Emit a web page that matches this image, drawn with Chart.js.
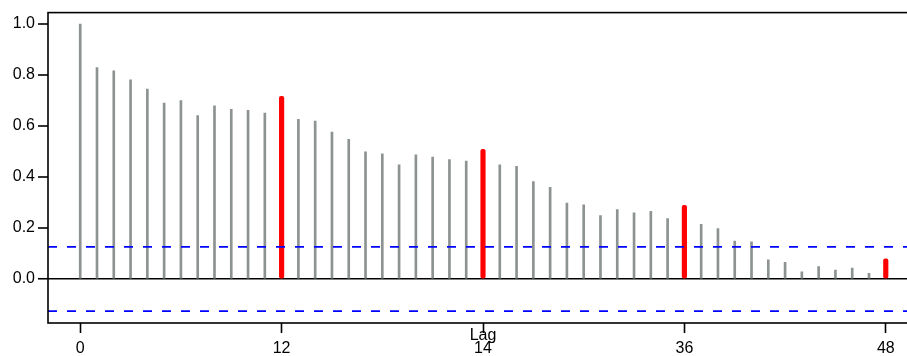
<!DOCTYPE html>
<html>
<head>
<meta charset="utf-8">
<script src="https://cdn.jsdelivr.net/npm/chart.js@4"></script>
<style>
  html, body { margin: 0; padding: 0; background: #fff; overflow: hidden; }
  #wrap { width: 930px; height: 356px; }
</style>
</head>
<body>
<div id="wrap"><canvas id="acf-chart" width="930" height="356"></canvas></div>
<script>
const lags = [];
for (let i = 0; i <= 48; i++) lags.push(i);
const acfValues = [
  1.0, 0.829, 0.816, 0.781, 0.745, 0.69, 0.7, 0.641, 0.679, 0.665, 0.661, 0.651,
  0.716, 0.626, 0.619, 0.576, 0.548, 0.499, 0.491, 0.448, 0.487, 0.478, 0.468, 0.462,
  0.508, 0.448, 0.442, 0.382, 0.359, 0.298, 0.291, 0.249, 0.272, 0.259, 0.265, 0.237,
  0.289, 0.214, 0.198, 0.149, 0.146, 0.075, 0.065, 0.028, 0.049, 0.035, 0.043, 0.022,
  0.079,
];
const seasonalLags = [12, 24, 36, 48];
const confBound = 0.126;
const xTicks = [0, 12, 24, 36, 48];
const xTickLabels = ["0", "12", "14", "36", "48"];
const yTicks = [0, 0.2, 0.4, 0.6, 0.8, 1.0];
const xTitle = "Lag";
const xMin = -1.92, xMax = 49.92;
const yMin = -0.1726, yMax = 1.0447;

const points = lags.map((l, i) => ({ x: l, y: acfValues[i] }));
const grayPoints = points.filter((p) => !seasonalLags.includes(p.x));
const redPoints = points.filter((p) => seasonalLags.includes(p.x));

const framePlugin = {
  id: "frame",
  afterDatasetsDraw(chart) {
    const { ctx, chartArea } = chart;
    ctx.save();
    ctx.strokeStyle = "#000";
    ctx.lineWidth = 1.6;
    ctx.strokeRect(chartArea.left, chartArea.top, chartArea.right - chartArea.left, chartArea.bottom - chartArea.top);
    ctx.fillStyle = "#000";
    ctx.font = "16px 'Liberation Sans', Arial, sans-serif";
    ctx.textAlign = "center";
    ctx.textBaseline = "alphabetic";
    ctx.fillText(xTitle, (chartArea.left + chartArea.right) / 2, chartArea.bottom + 16.5);
    ctx.restore();
  },
};

Chart.defaults.font.family = "'Liberation Sans', Arial, sans-serif";
Chart.defaults.font.size = 16;
Chart.defaults.color = "#000";

const ctx = document.getElementById("acf-chart").getContext("2d");
new Chart(ctx, {
  type: "bar",
  data: {
    datasets: [
      {
        label: "ACF",
        data: grayPoints,
        backgroundColor: "#8c9390",
        barThickness: 2,
        borderWidth: 0,
        grouped: false,
        order: 3,
      },
      {
        label: "ACF seasonal",
        data: redPoints,
        backgroundColor: "#ff0000",
        barThickness: 4.5,
        borderWidth: 0,
        borderRadius: 2,
        borderSkipped: false,
        grouped: false,
        order: 2,
      },
      {
        type: "line",
        label: "upper",
        data: [{ x: xMin, y: confBound }, { x: xMax, y: confBound }],
        borderColor: "#0000ff",
        borderWidth: 1.6,
        borderDash: [9, 10],
        pointRadius: 0,
        order: 1,
      },
      {
        type: "line",
        label: "lower",
        data: [{ x: xMin, y: -confBound }, { x: xMax, y: -confBound }],
        borderColor: "#0000ff",
        borderWidth: 1.6,
        borderDash: [9, 10],
        pointRadius: 0,
        order: 1,
      },
    ],
  },
  options: {
    responsive: false,
    animation: false,
    layout: { padding: { top: 9, left: 0, right: 12, bottom: 0 } },
    plugins: { legend: { display: false }, tooltip: { enabled: false } },
    scales: {
      x: {
        type: "linear",
        min: xMin,
        max: xMax,
        offset: false,
        afterBuildTicks: (s) => { s.ticks = xTicks.map((v) => ({ value: v })); },
        afterFit: (s) => { s.height = 33; },
        ticks: {
          autoSkip: false,
          maxRotation: 0,
          padding: 6,
          callback: (v) => xTickLabels[xTicks.indexOf(v)],
        },
        grid: { offset: false, drawOnChartArea: false, tickLength: 10, tickColor: "#000", tickWidth: 1.6 },
        border: { display: false },
      },
      y: {
        min: yMin,
        max: yMax,
        afterBuildTicks: (s) => { s.ticks = yTicks.map((v) => ({ value: v })); },
        afterFit: (s) => { s.width = 48; },
        ticks: { padding: 3, callback: (v) => v.toFixed(1) },
        grid: {
          tickLength: 10,
          tickColor: "#000",
          tickWidth: 1.6,
          color: (c) => (c.tick && c.tick.value === 0 ? "#000" : "rgba(0,0,0,0)"),
          lineWidth: (c) => (c.tick && c.tick.value === 0 ? 1.5 : 0),
        },
        border: { display: false },
      },
    },
  },
  plugins: [framePlugin],
});
</script>
</body>
</html>
